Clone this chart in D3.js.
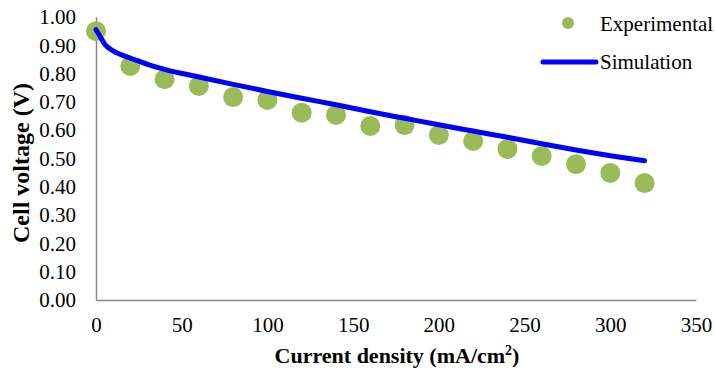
<!DOCTYPE html>
<html>
<head>
<meta charset="utf-8">
<script src="https://cdn.jsdelivr.net/npm/d3@7"></script>
<style>
  body { margin: 0; background: #fff; }
</style>
</head>
<body>
<svg id="chart" width="715" height="372"></svg>
<script>
// experimental points (mA/cm2, V)
var expCurrent = [0, 20, 40, 60, 80, 100, 120, 140, 160, 180, 200, 220, 240, 260, 280, 300, 320];
var expVoltage = [0.950, 0.827, 0.780, 0.756, 0.717, 0.707, 0.662, 0.654, 0.615, 0.618, 0.583, 0.562, 0.534, 0.509, 0.480, 0.449, 0.413];

// simulation curve
var simCurrent = [0, 2, 5, 10, 15, 20, 30, 40, 60, 80, 100, 120, 140, 160, 180, 200, 220, 240, 260, 280, 300, 320];
var simVoltage = [0.955, 0.935, 0.905, 0.880, 0.866, 0.855, 0.833, 0.815, 0.788, 0.762, 0.737, 0.713, 0.690, 0.665, 0.642, 0.619, 0.597, 0.575, 0.552, 0.530, 0.510, 0.492];

var xTicks = [0, 50, 100, 150, 200, 250, 300, 350];
var yTicks = [0, 0.1, 0.2, 0.3, 0.4, 0.5, 0.6, 0.7, 0.8, 0.9, 1.0];

var FONT = 'Liberation Serif';
var svg = d3.select('#chart').attr('font-family', FONT);

var x = d3.scaleLinear().domain([0, 350]).range([96, 696]);
var y = d3.scaleLinear().domain([0, 1]).range([300, 17]);

// axes
var xAxis = d3.axisBottom(x).tickValues(xTicks).tickSize(0).tickPadding(17).tickFormat(d3.format('d'));
var yAxis = d3.axisLeft(y).tickValues(yTicks).tickSize(0).tickPadding(20).tickFormat(d3.format('.2f'));

var gx = svg.append('g').attr('transform', 'translate(0,300)').call(xAxis);
var gy = svg.append('g').attr('transform', 'translate(96,0)').call(yAxis);

[gx, gy].forEach(function (g) {
  g.attr('font-family', FONT).attr('font-size', 21);
  g.select('.domain').attr('stroke', '#868686').attr('stroke-width', 1.5);
  g.selectAll('text').attr('fill', '#000');
});

var simData = simCurrent.map(function (c, i) { return [c, simVoltage[i]]; });
var expData = expCurrent.map(function (c, i) { return [c, expVoltage[i]]; });

// points
svg.append('g').selectAll('circle')
  .data(expData)
  .enter().append('circle')
  .attr('cx', function (d) { return x(d[0]); })
  .attr('cy', function (d) { return y(d[1]); })
  .attr('r', 10)
  .attr('fill', '#9bbb59');

// simulation line
var line = d3.line()
  .x(function (d) { return x(d[0]); })
  .y(function (d) { return y(d[1]); })
  .curve(d3.curveMonotoneX);

svg.append('path')
  .datum(simData)
  .attr('d', line)
  .attr('fill', 'none')
  .attr('stroke', '#0000ff')
  .attr('stroke-width', 5)
  .attr('stroke-linecap', 'round');

// axis titles
svg.append('text')
  .attr('x', 397).attr('y', 363)
  .attr('text-anchor', 'middle')
  .attr('font-family', FONT)
  .attr('font-weight', 'bold').attr('font-size', 22)
  .html('Current density (mA/cm<tspan dy="-8" font-size="14">2</tspan><tspan dy="8">)</tspan>');

svg.append('text')
  .attr('transform', 'translate(29,163) rotate(-90)')
  .attr('text-anchor', 'middle')
  .attr('font-family', FONT)
  .attr('font-weight', 'bold').attr('font-size', 24)
  .text('Cell voltage (V)');

// legend
var legend = svg.append('g').attr('font-family', FONT).attr('font-size', 21);
legend.append('circle').attr('cx', 568).attr('cy', 23).attr('r', 6).attr('fill', '#9bbb59');
legend.append('text').attr('x', 600).attr('y', 31).text('Experimental');
legend.append('line').attr('x1', 543).attr('x2', 596).attr('y1', 62).attr('y2', 62)
  .attr('stroke', '#0000ff').attr('stroke-width', 5).attr('stroke-linecap', 'round');
legend.append('text').attr('x', 600).attr('y', 69).text('Simulation');
</script>
</body>
</html>
